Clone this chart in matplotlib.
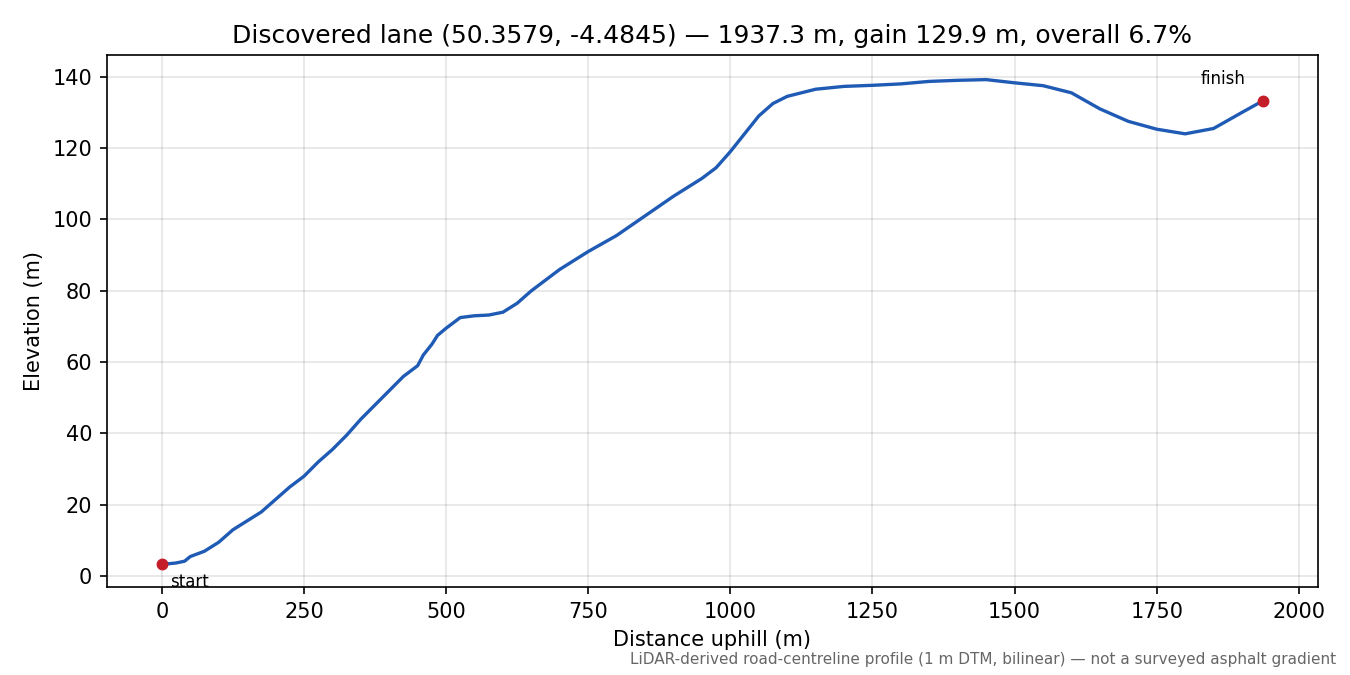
import matplotlib
matplotlib.use("Agg")
import matplotlib.pyplot as plt

dist = [0, 25, 40, 50, 75, 100, 125, 150, 175, 200, 225, 250, 275, 300, 325, 350, 375, 400,
        425, 450, 460, 475, 485, 500, 525, 550, 575, 600, 625, 650, 700, 750, 800, 850, 900,
        950, 975, 1000, 1025, 1050, 1075, 1100, 1150, 1200, 1250, 1300, 1350, 1400, 1450,
        1500, 1550, 1600, 1650, 1700, 1750, 1800, 1850, 1900, 1937.3]
elev = [3.3, 3.7, 4.2, 5.5, 7, 9.5, 13, 15.5, 18, 21.5, 25, 28, 32, 35.5, 39.5, 44, 48, 52,
        56, 59, 62, 65, 67.5, 69.5, 72.5, 73, 73.2, 74, 76.5, 80, 86, 91, 95.5, 101, 106.5,
        111.5, 114.5, 119, 124, 129, 132.5, 134.5, 136.5, 137.3, 137.6, 138, 138.7, 139, 139.2,
        138.3, 137.5, 135.5, 131, 127.5, 125.3, 124, 125.5, 130, 133.3]

fig, ax = plt.subplots(figsize=(9, 4.5), dpi=150)
fig.subplots_adjust(left=0.079, right=0.976, top=0.918, bottom=0.13)
ax.plot(dist, elev, color="#1f5bb5", lw=1.6)
ax.scatter([dist[0], dist[-1]], [elev[0], elev[-1]], color="#c41e2a", s=22, zorder=5)
ax.annotate("start", (dist[0], elev[0]), xytext=(4, -11), textcoords="offset points", fontsize=8)
ax.annotate("finish", (dist[-1], elev[-1]), xytext=(-30, 8), textcoords="offset points", fontsize=8)
ax.set_xlim(-97, 2033)
ax.set_ylim(-3.1, 146)
ax.grid(True, color="#000000", alpha=0.1, lw=0.8)
ax.set_xlabel("Distance uphill (m)")
ax.set_ylabel("Elevation (m)")
ax.set_title("Discovered lane (50.3579, -4.4845) — 1937.3 m, gain 129.9 m, overall 6.7%")
fig.text(0.99, 0.012, "LiDAR-derived road-centreline profile (1 m DTM, bilinear) — not a surveyed asphalt gradient",
         ha="right", va="bottom", fontsize=7.3, color="#666666")
fig.savefig("out.png")
